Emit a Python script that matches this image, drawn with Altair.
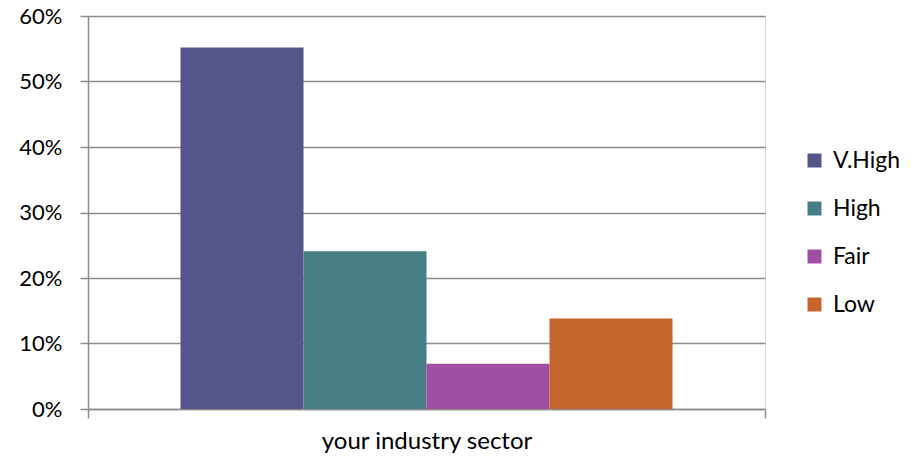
import altair as alt
import pandas as pd

categories = ["your industry sector"]
series = ["V.High", "High", "Fair", "Low"]
values = [0.552, 0.241, 0.069, 0.138]
colors = ["#55558A", "#457F85", "#A04EA2", "#C3652D"]
y_ticks = [0, 0.1, 0.2, 0.3, 0.4, 0.5, 0.6]

df = pd.DataFrame({
    "category": [categories[0]] * len(series),
    "series": series,
    "value": values,
})

FONT = "Lato"
W, H = 677, 393

bars = alt.Chart(df).mark_bar(size=123).encode(
    x=alt.X(
        "category:N",
        scale=alt.Scale(paddingInner=0, paddingOuter=0),
        axis=alt.Axis(
            title=None, labelAngle=0, tickBand="extent", tickSize=9,
            labelFontSize=24, labelPadding=11, labelColor="#000000", labelLimit=500,
            tickColor="#8c8c8c", domainColor="#8c8c8c", tickWidth=1.5, domainWidth=1.5,
            labelFont=FONT,
        ),
    ),
    xOffset=alt.XOffset(
        "series:N", sort=series,
        scale=alt.Scale(paddingInner=0, paddingOuter=0.752),
    ),
    y=alt.Y(
        "value:Q",
        scale=alt.Scale(domain=[0, 0.6], nice=False),
        axis=alt.Axis(
            title=None, format=".0%", values=y_ticks, tickSize=8,
            labelFontSize=22, labelPadding=18, labelColor="#000000", labelFont=FONT,
            gridColor="#8c8c8c", gridWidth=1.5, tickColor="#8c8c8c", tickWidth=1.5,
            domainColor="#8c8c8c", domainWidth=1.5,
        ),
    ),
    color=alt.Color(
        "series:N", sort=series,
        scale=alt.Scale(domain=series, range=colors),
        legend=alt.Legend(
            title=None, orient="none", legendX=715, legendY=133,
            symbolType="square", symbolSize=196, symbolStrokeWidth=0,
            labelFontSize=23, labelFont=FONT, labelColor="#000000",
            rowPadding=24, padding=0, labelOffset=7,
        ),
    ),
)

chart = bars.properties(
    width=W, height=H,
    padding={"left": 88, "top": 16, "right": 147, "bottom": 49},
    autosize=alt.AutoSizeParams(type="none"),
).configure_view(stroke=None).configure(background="#ffffff")

chart.save("out.html", embed_options={"renderer": "svg", "actions": False})
